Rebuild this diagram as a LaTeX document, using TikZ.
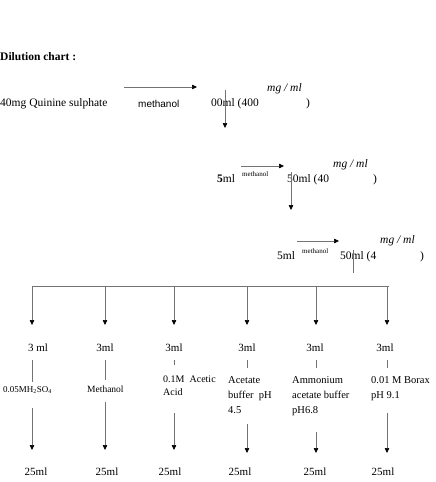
\documentclass[tikz,border=0pt]{standalone}
\usepackage{fontspec}
\setmainfont{Liberation Serif}
\setsansfont{Liberation Sans}
\usetikzlibrary{arrows.meta}

\begin{document}
\begin{tikzpicture}[x=1pt,y=-1pt,
  txt/.style={anchor=base west,inner sep=0pt,font=\fontsize{11.5}{13}\selectfont},
  unit/.style={txt,font=\fontsize{11.5}{13}\selectfont\itshape},
  meth/.style={txt,font=\fontsize{7}{8}\selectfont},
  vol/.style={anchor=base,inner sep=0pt,font=\fontsize{11}{13}\selectfont},
  lbl/.style={anchor=north west,inner sep=0pt,align=left,font=\fontsize{10.5}{15}\selectfont},
  ln/.style={black!55,line width=0.6pt},
  arr/.style={ln,-{Triangle[length=5pt,width=4.5pt,color=black]}}
  ]
  \useasboundingbox (0,0) rectangle (436,482);

  \node[txt,font=\fontsize{11.5}{13}\selectfont\bfseries] (title) at (0,60) {Dilution chart :};

  % first dilution
  \node[txt] (quinine) at (0,106) {40mg Quinine sulphate};
  \node[txt,font=\fontsize{10}{12}\sffamily] (meth1) at (138,107) {methanol};
  \node[txt] (stock1) at (211,106) {00ml (400};
  \node[unit] (unit1) at (267,91) {mg / ml};
  \node[txt] (close1) at (306,106) {)};
  \coordinate (a1s) at (124,87);
  \coordinate (a1e) at (197,87);
  \draw[arr] (a1s) -- (a1e);
  \coordinate (d1s) at (225,90);
  \coordinate (d1e) at (225,128);
  \draw[arr] (d1s) -- (d1e);

  % second dilution
  \node[txt] (vol2) at (217,182) {\textbf{5}ml};
  \node[meth] (meth2) at (242,176) {methanol};
  \node[txt] (stock2) at (287,182) {50ml (40};
  \node[unit] (unit2) at (333,167) {mg / ml};
  \node[txt] (close2) at (373,182) {)};
  \coordinate (a2s) at (241,166);
  \coordinate (a2e) at (284,166);
  \draw[arr] (a2s) -- (a2e);
  \coordinate (d2s) at (291,172);
  \coordinate (d2e) at (291,210);
  \draw[arr] (d2s) -- (d2e);

  % third dilution
  \node[txt] (vol3) at (277,259) {5ml};
  \node[meth] (meth3) at (302,253) {methanol};
  \node[txt] (stock3) at (340,259) {50ml (4};
  \node[unit] (unit3) at (380,243) {mg / ml};
  \node[txt] (close3) at (420,259) {)};
  \coordinate (a3s) at (297,241);
  \coordinate (a3e) at (339,241);
  \draw[arr] (a3s) -- (a3e);
  \coordinate (stemt) at (353,250);
  \coordinate (stemb) at (353,273);
  \draw[ln] (stemt) -- (stemb);

  % solvents
  \node[vol] (take1) at (38,351) {3 ml};
  \node[vol] (take2) at (105,351) {3ml};
  \node[vol] (take3) at (174,351) {3ml};
  \node[vol] (take4) at (247,351) {3ml};
  \node[vol] (take5) at (315,351) {3ml};
  \node[vol] (take6) at (385,351) {3ml};

  \node[lbl,font=\fontsize{9}{11}\selectfont] (solv1) at (3,386) {0.05MH\textsubscript{2}SO\textsubscript{4}};
  \node[lbl,font=\fontsize{9.5}{11}\selectfont] (solv2) at (87,386) {Methanol};
  \node[lbl,font=\fontsize{10}{13}\selectfont] (solv3) at (163,376) {0.1M\ \ Acetic\\Acid};
  \node[lbl] (solv4) at (228,376) {Acetate\\buffer\ \ pH\\4.5};
  \node[lbl] (solv5) at (292,376) {Ammonium\\acetate buffer\\pH6.8};
  \node[lbl] (solv6) at (371,376) {0.01 M Borax\\pH 9.1};

  \node[vol] (make1) at (36,475) {25ml};
  \node[vol] (make2) at (107,475) {25ml};
  \node[vol] (make3) at (170,475) {25ml};
  \node[vol] (make4) at (240,475) {25ml};
  \node[vol] (make5) at (315,475) {25ml};
  \node[vol] (make6) at (383,475) {25ml};

  \foreach \i/\x/\y/\u/\v in {1/32/382/408/450,2/105/380/402/450,3/174/365/413/450,
      4/247/368/424/453,5/316/368/432/453,6/387/368/413/453}{
    \coordinate (top\i) at (\x,286);
    \coordinate (in\i) at (\x,325);
    \coordinate (ls\i) at (\x,360);
    \coordinate (le\i) at (\x,\y);
    \coordinate (os\i) at (\x,\u);
    \coordinate (oe\i) at (\x,\v);
    \draw[arr] (top\i) -- (in\i);
    \draw[ln] (ls\i) -- (le\i);
    \draw[arr] (os\i) -- (oe\i);
  }
  \coordinate (busend) at (389,286);
  \draw[ln] (top1) -- (busend);
\end{tikzpicture}
\end{document}
